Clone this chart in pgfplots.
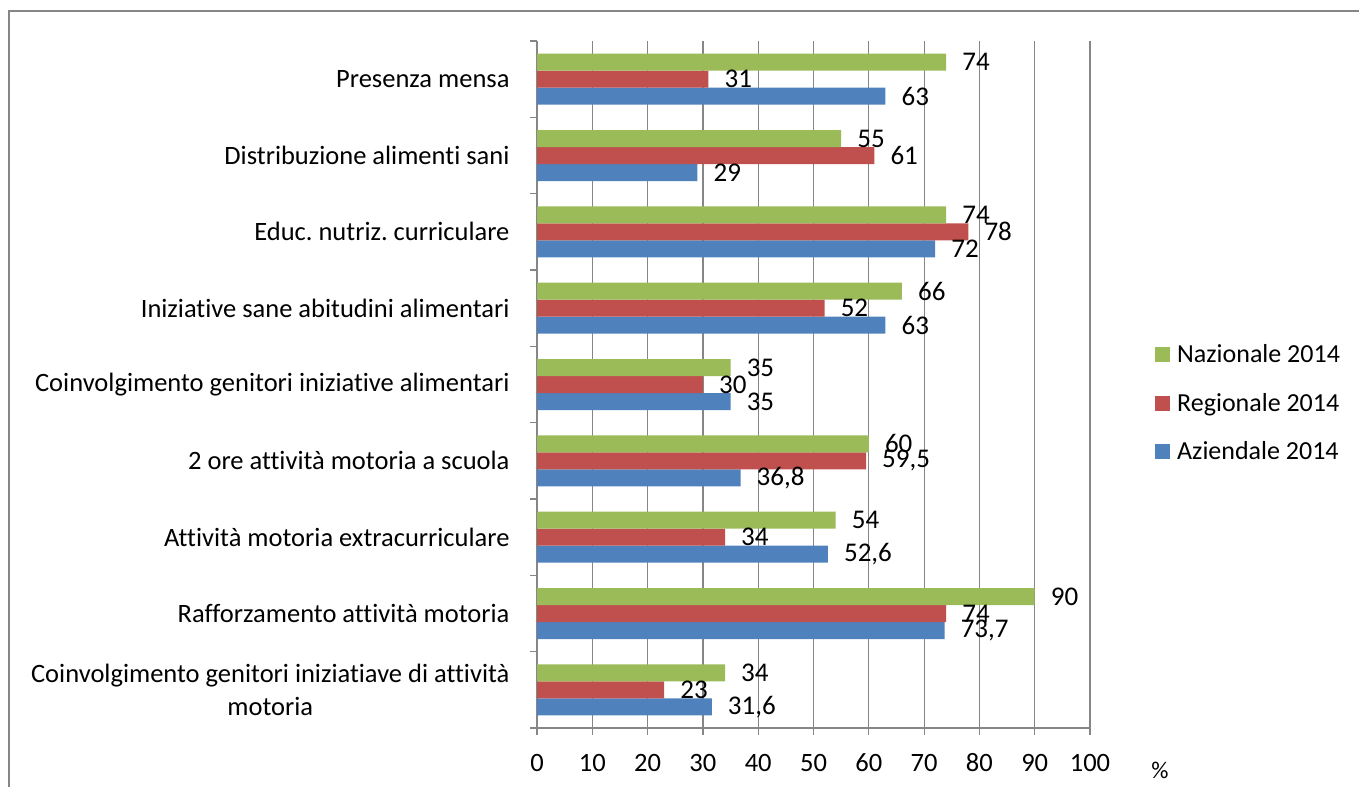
\documentclass[border=0pt]{standalone}
\usepackage{pgfplots}
\pgfplotsset{compat=1.18}
\usepackage{fontspec}
\setmainfont{Carlito}[Ligatures={NoCommon}]
\definecolor{cN}{HTML}{9BBB59}
\definecolor{cR}{HTML}{C0504D}
\definecolor{cA}{HTML}{4F81BD}
\definecolor{gridg}{HTML}{868686}
\begin{document}
\frenchspacing
\begin{tikzpicture}
\useasboundingbox (0,0) rectangle (1359pt,787pt);
\draw[gridg, line width=1.5pt] (9pt,0pt) -- (9pt,776pt) -- (1359pt,776pt);
\begin{axis}[
  at={(537pt,59pt)}, anchor=south west,
  scale only axis, width=553pt, height=687pt,
  xmin=0, xmax=100, ymin=-0.5, ymax=8.5,
  clip=false,
  xbar=0pt, bar width=17pt,
  axis x line*=bottom, axis y line*=left,
  axis line style={-, draw=gridg, line width=1.2pt},
  xmajorgrids, grid style={draw=gridg, line width=1.2pt},
  xtick={0,10,...,100},
  ytick={0,...,8},
  yticklabels={{Coinvolgimento genitori iniziatiave di attività\\motoria},
    Rafforzamento attività motoria,
    Attività motoria extracurriculare,
    2 ore attività motoria a scuola,
    Coinvolgimento genitori iniziative alimentari,
    Iniziative sane abitudini alimentari,
    Educ. nutriz. curriculare,
    Distribuzione alimenti sani,
    Presenza mensa},
  minor ytick={-0.5,0.5,...,8.5},
  tick align=outside,
  major tick length=7pt, minor tick length=7pt,
  xtick style={draw=gridg, line width=1.2pt},
  ytick style={draw=none},
  minor y tick style={draw=gridg, line width=1.2pt},
  /pgf/number format/assume math mode=true,
  /pgf/number format/use comma,
  xticklabel style={font=\fontsize{26.5}{31}\selectfont, anchor=north, text height=17pt, text depth=0pt, yshift=-16pt},
  yticklabel style={font=\fontsize{26.5}{33}\selectfont, align=center, anchor=east, xshift=-17pt},
  nodes near coords,
  every node near coord/.append style={font=\fontsize{27}{32}\selectfont, anchor=west, xshift=16pt, inner sep=0pt},
  reverse legend,
  legend style={at={(rel axis cs:1.1175,0.473)}, anchor=west, draw=none, fill=none,
    font=\fontsize{26}{31}\selectfont, row sep=25pt, inner sep=0pt,
    /tikz/every odd column/.append style={column sep=5pt}},
  legend cell align=left,
  legend image code/.code={\fill[#1] (0pt,-7.5pt) rectangle (15pt,7.5pt);},
]
\addplot[fill=cA, draw=none] coordinates {(31.6,0) (73.7,1) (52.6,2) (36.8,3) (35,4) (63,5) (72,6) (29,7) (63,8)};
\addplot[fill=cR, draw=none] coordinates {(23,0) (74,1) (34,2) (59.5,3) (30,4) (52,5) (78,6) (61,7) (31,8)};
\addplot[fill=cN, draw=none] coordinates {(34,0) (90,1) (54,2) (60,3) (35,4) (66,5) (74,6) (55,7) (74,8)};
\legend{Aziendale 2014, Regionale 2014, Nazionale 2014}
\node[font=\fontsize{24}{28}\selectfont] at ([yshift=-42pt]rel axis cs:1.1266,0) {\%};
\end{axis}
\end{tikzpicture}
\end{document}
